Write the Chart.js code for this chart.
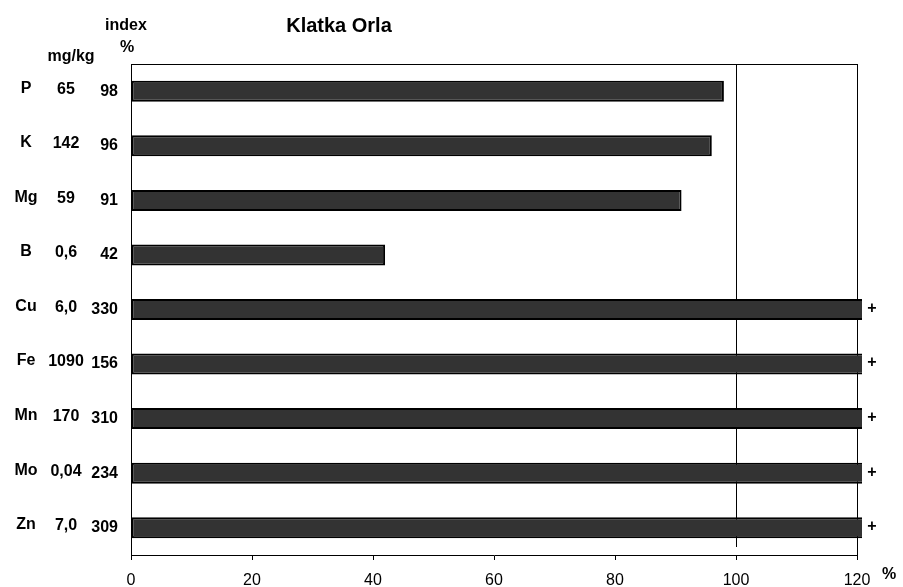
<!DOCTYPE html>
<html><head><meta charset="utf-8">
<script src="https://cdn.jsdelivr.net/npm/chart.js@4"></script>
<style>html,body{margin:0;padding:0;background:#fff}#wrap{width:903px;height:587px}</style>
</head><body><div id="wrap"><canvas id="c" width="903" height="587"></canvas></div>
<script>
const elements = ['P','K','Mg','B','Cu','Fe','Mn','Mo','Zn'];
const mgkg = ['65','142','59','0,6','6,0','1090','170','0,04','7,0'];
const indexValues = [98,96,91,42,330,156,310,234,309];
const xTicks = [0,20,40,60,80,100,120];
const title = 'Klatka Orla';

const FONT = '"Liberation Sans", Arial, sans-serif';

const labelsPlugin = {
  id: 'labels',
  afterDraw(chart) {
    const ctx = chart.ctx;
    const y = chart.scales.y, x = chart.scales.x;
    ctx.save();
    ctx.fillStyle = '#000';
    ctx.textBaseline = 'middle';
    ctx.textAlign = 'center';
    ctx.font = 'bold 20px ' + FONT;
    ctx.fillText(title, 339, 26);
    ctx.font = 'bold 16px ' + FONT;
    ctx.fillText('index', 126, 26);
    ctx.fillText('%', 127, 48);
    ctx.fillText('mg/kg', 71, 57);
    elements.forEach((el, i) => {
      const py = y.getPixelForValue(i);
      ctx.textAlign = 'center';
      ctx.fillText(el, 26, py - 3);
      ctx.fillText(mgkg[i], 66, py - 2);
      ctx.textAlign = 'right';
      ctx.fillText(String(indexValues[i]), 118, py);
      if (indexValues[i] > x.max) {
        ctx.textAlign = 'center';
        ctx.fillText('+', 872, py - 1);
      }
    });
    ctx.textAlign = 'center';
    ctx.fillText('%', 889, 575);
    ctx.restore();
  },
  beforeDatasetsDraw(chart) {
    const ctx = chart.ctx, ca = chart.chartArea, x = chart.scales.x;
    ctx.save();
    ctx.strokeStyle = '#000';
    ctx.lineWidth = 1;
    ctx.beginPath();
    ctx.moveTo(ca.left, ca.top + 0.5);
    ctx.lineTo(ca.right, ca.top + 0.5);
    const x100 = Math.round(x.getPixelForValue(100)) + 0.5;
    ctx.moveTo(x100, ca.top);
    ctx.lineTo(x100, ca.bottom - 8);
    ctx.stroke();
    ctx.restore();
  }
};

new Chart(document.getElementById('c'), {
  type: 'bar',
  data: {
    labels: elements,
    datasets: [{
      data: indexValues,
      backgroundColor: '#333333',
      borderColor: '#000000',
      borderWidth: 2,
      borderSkipped: false,
      barPercentage: 0.77,
      categoryPercentage: 0.5,
      clip: {left: 0, top: 0, right: 5, bottom: 0}
    }]
  },
  options: {
    indexAxis: 'y',
    responsive: false,
    animation: false,
    devicePixelRatio: 1,
    layout: {padding: {left: 0, right: 46, top: 64, bottom: 0}},
    plugins: {legend: {display: false}, tooltip: {enabled: false}, title: {display: false}},
    scales: {
      x: {
        min: 0, max: 120,
        afterBuildTicks(s) { s.ticks = xTicks.map(v => ({value: v})); },
        afterFit(s) { s.height = 32; },
        border: {display: true, color: '#000', width: 1},
        grid: {
          color: c => (c.tick && c.tick.value === 120) ? '#000' : 'rgba(0,0,0,0)',
          tickColor: '#000', tickLength: 5, drawOnChartArea: true
        },
        ticks: {color: '#000', font: {family: FONT, size: 16}, padding: 11, maxRotation: 0}
      },
      y: {
        afterFit(s) { s.width = 131; },
        border: {display: true, color: '#000', width: 1},
        grid: {display: false, drawTicks: false},
        ticks: {display: false}
      }
    }
  },
  plugins: [labelsPlugin]
});
</script></body></html>
